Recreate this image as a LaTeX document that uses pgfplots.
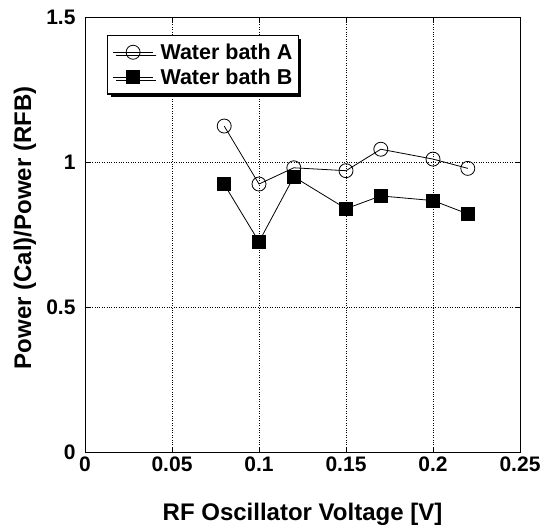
\documentclass[border=0pt]{standalone}
\usepackage{pgfplots}
\pgfplotsset{compat=1.18}
\usepackage{fontspec}
\setmainfont{Liberation Sans}
\usetikzlibrary{shadows}
\begin{document}
\begin{tikzpicture}
\begin{axis}[
  scale only axis,
  width=435pt, height=435pt,
  xmin=0, xmax=0.25, ymin=0, ymax=1.5,
  xtick={0,0.05,0.1,0.15,0.2,0.25},
  ytick={0,0.5,1,1.5},
  xticklabels={0,0.05,0.1,0.15,0.2,0.25},
  yticklabels={0,0.5,1,1.5},
  grid=major,
  grid style={black, dotted, line width=0.6pt},
  axis line style={black, line width=0.8pt},
  tick style={black, line width=0.6pt},
  tick align=inside,
  major tick length=5pt,
  /pgf/number format/assume math mode=true,
  tick label style={font=\bfseries\fontsize{21}{24}\selectfont},
  xticklabel style={yshift=-1pt},
  yticklabel style={xshift=-6pt},
  xlabel={RF Oscillator Voltage [V]},
  ylabel={Power (Cal)/Power (RFB)},
  label style={font=\bfseries\fontsize{24}{28}\selectfont},
  xlabel style={at={(axis description cs:0.5,-0.1425)}, anchor=center},
  ylabel style={at={(axis description cs:-0.138,0.515)}, anchor=center},
  legend style={
    at={(0.0506,0.9586)}, anchor=north west,
    draw=black, line width=1.4pt, fill=white,
    font=\bfseries\fontsize{21.5}{24}\selectfont,
    inner xsep=5pt, inner ysep=7pt, row sep=6pt,
    nodes={inner sep=1pt},
    drop shadow={shadow xshift=3pt, shadow yshift=-3pt, opacity=1, fill=black},
    /tikz/every odd column/.append style={column sep=6pt},
  },
  legend cell align=left,
  legend image code/.code={
    \draw[mark repeat=2, mark phase=2, #1] plot coordinates {(0pt,0pt) (20pt,0pt) (40pt,0pt)};
  },
]
\addplot[black, line width=0.8pt, mark=o, mark size=7pt, mark options={fill=white, line width=0.8pt}]
  coordinates {(0.08,1.124) (0.10,0.924) (0.12,0.980) (0.15,0.970) (0.17,1.044) (0.20,1.010) (0.22,0.978)};
\addlegendentry{Water bath A}
\addplot[black, line width=0.8pt, mark=square*, mark size=6.5pt, mark options={fill=black, line width=0.8pt}]
  coordinates {(0.08,0.923) (0.10,0.725) (0.12,0.949) (0.15,0.839) (0.17,0.883) (0.20,0.867) (0.22,0.821)};
\addlegendentry{Water bath B}
\end{axis}
\pgfresetboundingbox
\useasboundingbox ([shift={(-85pt,-77pt)}]current axis.south west) rectangle ([shift={(22pt,17pt)}]current axis.north east);
\end{tikzpicture}
\end{document}
